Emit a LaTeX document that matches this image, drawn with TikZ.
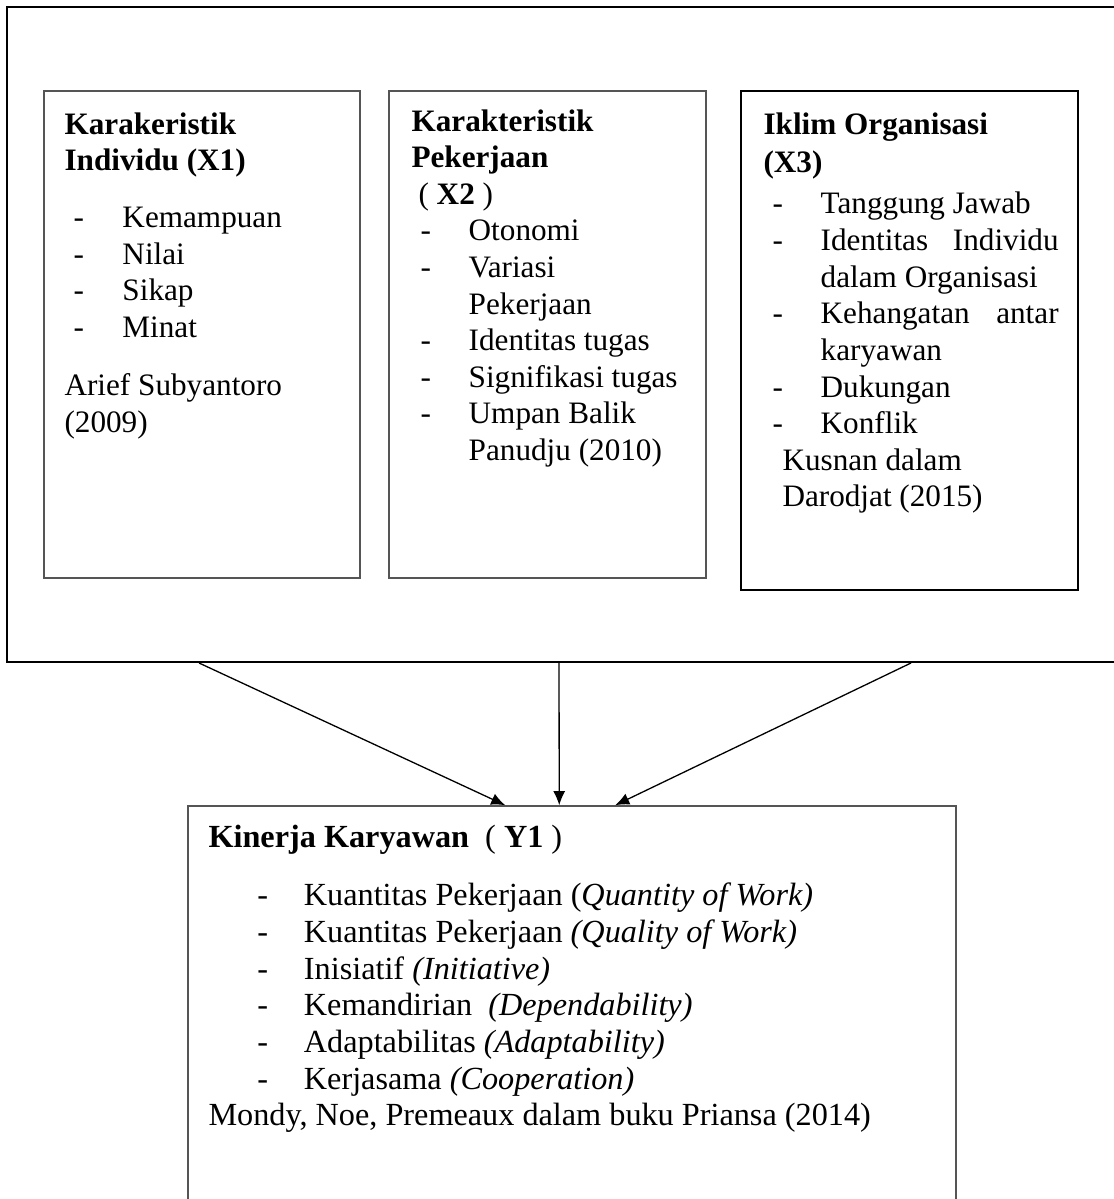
\documentclass[tikz,border=0pt]{standalone}
\usepackage{fontspec}
\setmainfont{Liberation Serif}
\usetikzlibrary{arrows.meta, calc, fit}
\definecolor{boxgray}{RGB}{85,85,85}
\newcommand{\dashrow}[3]{\hspace*{#1}\makebox[#2][l]{-}#3}
\tikzset{
  thinbox/.style={draw=boxgray, line width=0.6pt, inner sep=0pt},
  thickbox/.style={draw=black, line width=1pt, inner sep=0pt},
  boxtext/.style={anchor=base west, inner sep=0pt, font=\fontsize{12}{14.08}\selectfont},
  flow/.style={-{Latex[length=5.4pt, width=4.6pt]}, line width=0.5pt}
}

\begin{document}
\begin{tikzpicture}[x=0.3846pt, y=-0.3846pt]
        \useasboundingbox (0,0) rectangle (1114,1199);

        % Boxes
        \node[fit={(7,7) (1130,662)}, thickbox, line width=0.75pt] (frame) {};
        \node[fit={(44,91) (360,578)}, thinbox] (indiv) {};
        \node[fit={(389,91) (706,578)}, thinbox] (kerja) {};
        \node[fit={(741,91) (1078,590)}, thickbox] (iklim) {};
        \node[fit={(188,806) (956,1230)}, thinbox] (kinerja) {};

        % Texts
        \node[boxtext] (indivtext) at (64,134) {\parbox[t]{112pt}{%
            \textbf{Karakeristik}\\
            \textbf{Individu (X1)}\\[7.9pt]
            \dashrow{3.5pt}{18.8pt}{Kemampuan}\\
            \dashrow{3.5pt}{18.8pt}{Nilai}\\
            \dashrow{3.5pt}{18.8pt}{Sikap}\\
            \dashrow{3.5pt}{18.8pt}{Minat}\\[8.2pt]
            Arief Subyantoro\\
            (2009)}};
        \node[boxtext] (kerjatext) at (411,131) {\parbox[t]{112pt}{%
            \textbf{Karakteristik}\\
            \textbf{Pekerjaan}\\
            \hspace*{2.7pt}( \textbf{X2} )\\
            \dashrow{3.5pt}{18.5pt}{Otonomi}\\
            \dashrow{3.5pt}{18.5pt}{Variasi}\\
            \hspace*{22pt}Pekerjaan\\
            \dashrow{3.5pt}{18.5pt}{Identitas tugas}\\
            \dashrow{3.5pt}{18.5pt}{Signifikasi tugas}\\
            \dashrow{3.5pt}{18.5pt}{Umpan Balik}\\
            \hspace*{22pt}Panudju (2010)}};
        \node[boxtext] (iklimtext) at (763,134) {\parbox[t]{116pt}{%
            \textbf{Iklim Organisasi}\\[0.9pt]
            \textbf{(X3)}\\[1.7pt]
            \dashrow{3.5pt}{18.5pt}{Tanggung Jawab}\\
            \dashrow{3.5pt}{18.5pt}{\makebox[91.5pt][s]{Identitas Individu}}\\
            \hspace*{22pt}dalam Organisasi\\
            \dashrow{3.5pt}{18.5pt}{\makebox[91.5pt][s]{Kehangatan antar}}\\
            \hspace*{22pt}karyawan\\
            \dashrow{3.5pt}{18.5pt}{Dukungan}\\
            \dashrow{3.5pt}{18.5pt}{Konflik}\\
            \hspace*{7.3pt}Kusnan dalam\\
            \hspace*{7.3pt}Darodjat (2015)}};
        \node[boxtext, font=\fontsize{12.4}{14.08}\selectfont] (kinerjatext) at (208,847) {\parbox[t]{290pt}{%
            \textbf{Kinerja Karyawan}\ \ ( \textbf{Y1} )\\[8.6pt]
            \dashrow{18.8pt}{17.9pt}{Kuantitas Pekerjaan (\textit{Quantity of Work)}}\\
            \dashrow{18.8pt}{17.9pt}{Kuantitas Pekerjaan \textit{(Quality of Work)}}\\
            \dashrow{18.8pt}{17.9pt}{Inisiatif \textit{(Initiative)}}\\
            \dashrow{18.8pt}{17.9pt}{Kemandirian\ \ \textit{(Dependability)}}\\
            \dashrow{18.8pt}{17.9pt}{Adaptabilitas \textit{(Adaptability)}}\\
            \dashrow{18.8pt}{17.9pt}{Kerjasama \textit{(Cooperation)}}\\
            Mondy, Noe, Premeaux dalam buku Priansa (2014)}};

        % Edges
        \draw[flow] ($(frame.south west)+(193,0)$) -- ($(kinerja.north west)+(318,0)$);
        \draw[flow] ($(frame.south west)+(553,0)$) -- ($(kinerja.north west)+(372,0)$);
        \draw[flow] ($(frame.south west)+(905,0)$) -- ($(kinerja.north west)+(428,0)$);
    \end{tikzpicture}
\end{document}
